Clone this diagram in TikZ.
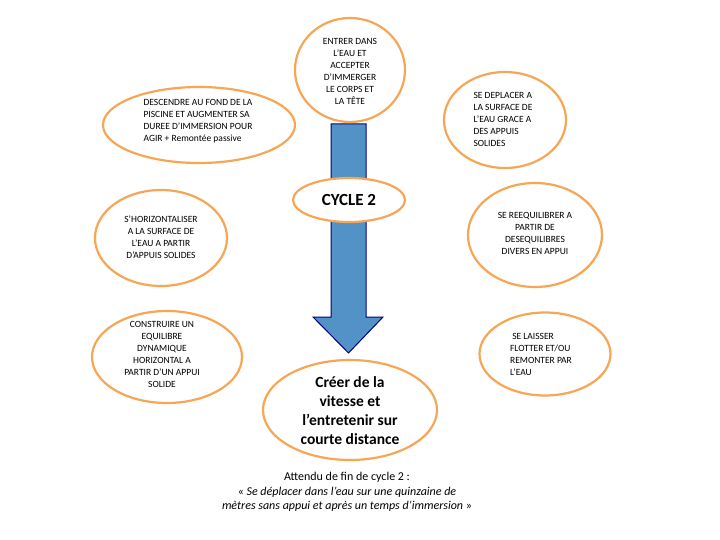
\documentclass[tikz,border=0pt]{standalone}
\usepackage{fontspec}
\setmainfont{Carlito}
\usetikzlibrary{shapes.geometric}
\begin{document}
\begin{tikzpicture}[x=1pt,y=-1pt,
 ov/.style={draw=orange!80!brown!70!white,line width=2.2pt,fill=white,ellipse},
 tx/.style={align=center,font=\fontsize{9.5}{12}\selectfont},
 tl/.style={align=left,font=\fontsize{9.5}{12}\selectfont}]
\useasboundingbox (0,0) rectangle (720,540);
% arrow
\draw[draw=blue!50!black,fill=blue!45!cyan!50!gray!90,line width=1pt]
 (331,124) -- (366,124) -- (366,317) -- (383,317) -- (348.5,353) -- (313,317) -- (331,317) -- cycle;
\draw[ov] (199,125) ellipse (96 and 38);
\node[tl] (a) at (198,121) {DESCENDRE AU FOND DE LA\\PISCINE ET AUGMENTER SA\\DUREE D'IMMERSION POUR\\AGIR + Remontée passive};
\draw[ov] (350,70) ellipse (55 and 52);
\node[tx] (b) at (350,71) {ENTRER DANS\\L'EAU ET\\ACCEPTER\\D'IMMERGER\\LE CORPS ET\\LA TÊTE};
\draw[ov] (505,120) ellipse (61 and 48);
\node[tl] (c) at (503,119) {SE DEPLACER A\\LA SURFACE DE\\L'EAU GRACE A\\DES APPUIS\\SOLIDES};
\draw[ov] (349,200) ellipse (56 and 22);
\node[font=\bfseries\fontsize{17}{19}\selectfont] (d) at (349,200) {CYCLE 2};
\draw[ov] (161,238) ellipse (66 and 48);
\node[tx] (e) at (161,237) {S'HORIZONTALISER\\A LA SURFACE DE\\L'EAU A PARTIR\\D'APPUIS SOLIDES};
\draw[ov] (535,235) ellipse (67 and 52);
\node[tx] (f) at (535,233) {SE REEQUILIBRER A\\PARTIR DE\\DESEQUILIBRES\\DIVERS EN APPUI};
\draw[ov] (167,357) ellipse (75 and 46);
\node[tx] (g) at (162,354) {CONSTRUIRE UN\\EQUILIBRE\\DYNAMIQUE\\HORIZONTAL A\\PARTIR D'UN APPUI\\SOLIDE};
\draw[ov] (545,354) ellipse (65.5 and 41.5);
\node[tl] (h) at (541,354) {\ SE LAISSER\\FLOTTER ET/OU\\REMONTER PAR\\L'EAU};
\draw[ov] (350,410) ellipse (87 and 50);
\node[align=center,font=\bfseries\fontsize{15.5}{19}\selectfont] (i) at (350,411) {Créer de la\\vitesse et\\l'entretenir sur\\courte distance};
\node[align=center,font=\fontsize{12}{14.5}\selectfont] (j) at (347,492) {Attendu de fin de cycle 2 :\\« \textit{Se déplacer dans l'eau  sur une quinzaine de}\\\textit{mètres sans appui et après un temps d'immersion} »};
\end{tikzpicture}
\end{document}
